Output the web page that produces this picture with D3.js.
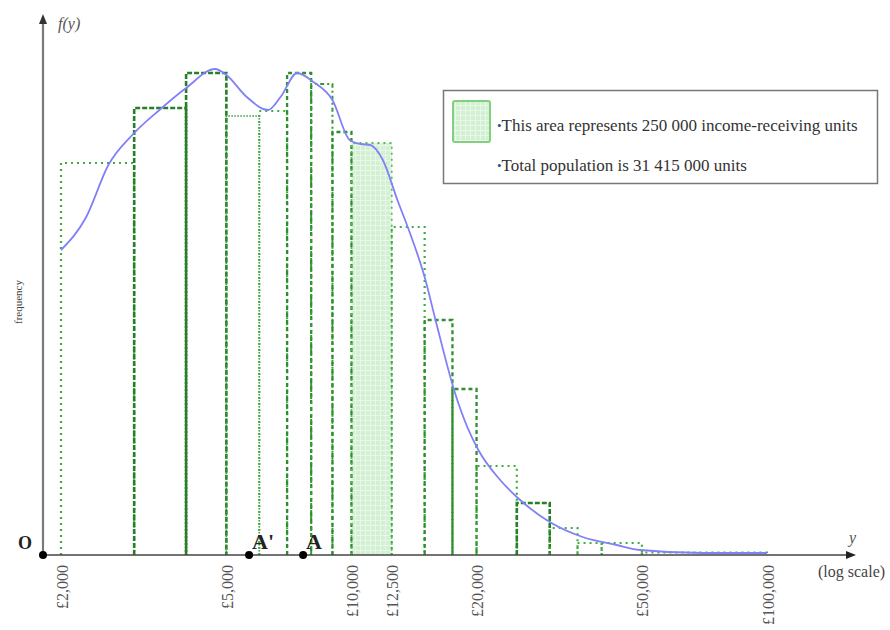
<!DOCTYPE html>
<html>
<head>
<meta charset="utf-8">
<script src="https://cdn.jsdelivr.net/npm/d3@7"></script>
<style>
  html, body { margin: 0; padding: 0; background: #fff; }
  svg { display: block; }
  text { font-family: "Liberation Serif", "Times New Roman", serif; }
</style>
</head>
<body>
<svg id="chart" width="890" height="630"></svg>
<script>
// ---------- DATA ----------
const binEdges = [2000, 3000, 4000, 5000, 6000, 7000, 8000, 9000, 10000, 12500, 15000, 17500, 20000, 25000, 30000, 35000, 40000, 50000, 100000];
const binDensity = [78.4, 89.4, 96.4, 87.8, 88.8, 96.4, 94.2, 84.6, 82.4, 65.6, 47, 33.2, 17.8, 10.4, 5.4, 2.4, 2.4, 0.5];
const highlightBin = 8; // £10,000 – £12,500

const curveIncome = [2000, 2300, 2600, 3000, 3450, 4000, 4700, 5000, 5600, 6300, 6750, 7400, 8100, 9000, 9900, 10500, 11100, 11900, 12900, 13800, 15000, 16000, 17750, 19000, 20200, 22800, 25000, 30000, 36000, 43500, 49500, 70000, 100000];
const curveDensity = [61, 67.6, 78, 84.4, 89, 93.4, 97.2, 96, 91.6, 89, 91.6, 96.4, 94.6, 91, 83, 82.2, 82, 79, 71, 64.6, 55.6, 46.4, 32.4, 25.6, 21, 15, 11.6, 6.6, 3.6, 2, 1, 0.4, 0.4];

const tickValues = [2000, 5000, 10000, 12500, 20000, 50000, 100000];
const tickLabels = ["£2,000", "£5,000", "£10,000", "£12,500", "£20,000", "£50,000", "£100,000"];

const markerLabels = ["A'", "A"];
const markerValues = [5670, 7650];

const legendLines = ["This area represents 250 000 income-receiving  units", "Total population is 31 415 000 units"];

// ---------- STYLES ----------
const STROKES = {
  dot:     { color: "#40ac40", width: 2.2, dash: "2,4" },
  dash:    { color: "#2f8f2f", width: 2.3, dash: "4,3" },
  heavy:   { color: "#277f27", width: 2.6, dash: "5,2" },
  fine:    { color: "#3a9a3a", width: 1.6, dash: "1.5,1.5" },
  dashdot: { color: "#359c35", width: 2,   dash: "4,3,2,3" },
  shade:   { color: "#55bb55", width: 1.8, dash: "2,4" }
};
const BAR_STROKE = ["dot", "heavy", "heavy", "fine", "dot", "dash", "dashdot", "dash", "shade", "dot", "dash", "dash", "dot", "heavy", "dot", "dot", "dot", "dot"];

// ---------- SCALES ----------
const svg = d3.select("#chart");
const baseY = 555, originX = 43;
const x = d3.scaleLog().domain([2000, 100000]).range([61, 767]);
const y = d3.scaleLinear().domain([0, 100]).range([baseY, 55]);

// pattern for shaded area
const defs = svg.append("defs");
const pat = defs.append("pattern").attr("id", "grid").attr("patternUnits", "userSpaceOnUse")
  .attr("width", 5).attr("height", 5);
pat.append("rect").attr("width", 5).attr("height", 5).attr("fill", "#d3f0d3");
pat.append("path").attr("d", "M0,0.5H5M0.5,0V5").attr("stroke", "#e8f8e8").attr("stroke-width", 1);

// ---------- HISTOGRAM ----------
const bins = binDensity.map((d, i) => ({ x0: binEdges[i], x1: binEdges[i + 1], v: d, i }));

svg.append("rect")
  .attr("x", x(bins[highlightBin].x0))
  .attr("y", y(bins[highlightBin].v))
  .attr("width", x(bins[highlightBin].x1) - x(bins[highlightBin].x0))
  .attr("height", baseY - y(bins[highlightBin].v))
  .attr("fill", "url(#grid)");

svg.append("g").selectAll("path").data(bins).join("path")
  .attr("d", d => `M${x(d.x0)},${baseY}V${y(d.v)}H${x(d.x1)}V${baseY}`)
  .attr("fill", "none")
  .attr("stroke", d => STROKES[BAR_STROKE[d.i]].color)
  .attr("stroke-width", d => STROKES[BAR_STROKE[d.i]].width)
  .attr("stroke-dasharray", d => STROKES[BAR_STROKE[d.i]].dash)
  .attr("stroke-linecap", "butt");

// ---------- CURVE ----------
const curvePts = curveIncome.map((c, i) => [c, curveDensity[i]]);
svg.append("path")
  .datum(curvePts)
  .attr("d", d3.line().x(d => x(d[0])).y(d => y(d[1])).curve(d3.curveMonotoneX))
  .attr("fill", "none")
  .attr("stroke", "#8080f8")
  .attr("stroke-width", 1.8);

// ---------- AXES ----------
// y axis
svg.append("line").attr("x1", originX).attr("y1", baseY).attr("x2", originX).attr("y2", 22)
  .attr("stroke", "#7a7a7a").attr("stroke-width", 2.2);
svg.append("path").attr("d", `M${originX - 4},24L${originX},14L${originX + 4},24Z`).attr("fill", "#333");
// x axis
svg.append("line").attr("x1", originX).attr("y1", baseY).attr("x2", 848).attr("y2", baseY)
  .attr("stroke", "#444").attr("stroke-width", 1.6);
svg.append("path").attr("d", `M846,${baseY - 4}L856,${baseY}L846,${baseY + 4}Z`).attr("fill", "#222");

const xAxis = d3.axisBottom(x).tickValues(tickValues).tickSize(0)
  .tickFormat((d, i) => tickLabels[i]);
const gx = svg.append("g").attr("transform", `translate(0,${baseY})`).call(xAxis);
gx.select(".domain").remove();
gx.selectAll("text")
  .attr("transform", "translate(6,10) rotate(-90)")
  .attr("x", 0).attr("y", 0).attr("dy", 0)
  .attr("text-anchor", "end")
  .attr("font-family", "Liberation Serif, serif")
  .attr("font-size", 16)
  .attr("fill", "#555");

// origin + markers
svg.append("circle").attr("cx", originX).attr("cy", baseY).attr("r", 4).attr("fill", "#000");
svg.append("text").attr("x", 18).attr("y", 549).attr("font-size", 18).attr("font-weight", "bold")
  .attr("fill", "#222").text("O");
markerValues.forEach((v, i) => {
  svg.append("circle").attr("cx", x(v)).attr("cy", baseY).attr("r", 4).attr("fill", "#000");
  svg.append("text").attr("x", x(v) + 3).attr("y", 549).attr("font-size", 22).attr("font-weight", "bold")
    .attr("fill", "#222").text(markerLabels[i]);
});

// axis titles
svg.append("text").attr("x", 58).attr("y", 29).attr("font-size", 16).attr("font-style", "italic")
  .attr("fill", "#555").text("f(y)");
svg.append("text").attr("x", 849).attr("y", 543).attr("font-size", 16).attr("font-style", "italic")
  .attr("fill", "#555").text("y");
svg.append("text").attr("x", 818).attr("y", 577).attr("font-size", 16)
  .attr("fill", "#444").text("(log scale)");
svg.append("text").attr("transform", "translate(22,302) rotate(-90)").attr("text-anchor", "middle")
  .attr("font-size", 11).attr("fill", "#444").text("frequency");

// ---------- LEGEND ----------
const lg = svg.append("g");
lg.append("rect").attr("x", 443.5).attr("y", 90.5).attr("width", 434).attr("height", 93)
  .attr("fill", "#fff").attr("stroke", "#777").attr("stroke-width", 1.5);
lg.append("rect").attr("x", 453).attr("y", 101).attr("width", 37).attr("height", 41).attr("rx", 2)
  .attr("fill", "url(#grid)").attr("stroke", "#80d080").attr("stroke-width", 2);
legendLines.forEach((t, i) => {
  const tx = lg.append("text").attr("x", 497).attr("y", 131 + i * 40).attr("font-size", 17).attr("fill", "#333");
  tx.append("tspan").attr("fill", "#1f4e79").attr("font-size", 13).attr("dy", -1).text("•");
  tx.append("tspan").attr("dy", 1).text(t);
});
</script>
</body>
</html>
